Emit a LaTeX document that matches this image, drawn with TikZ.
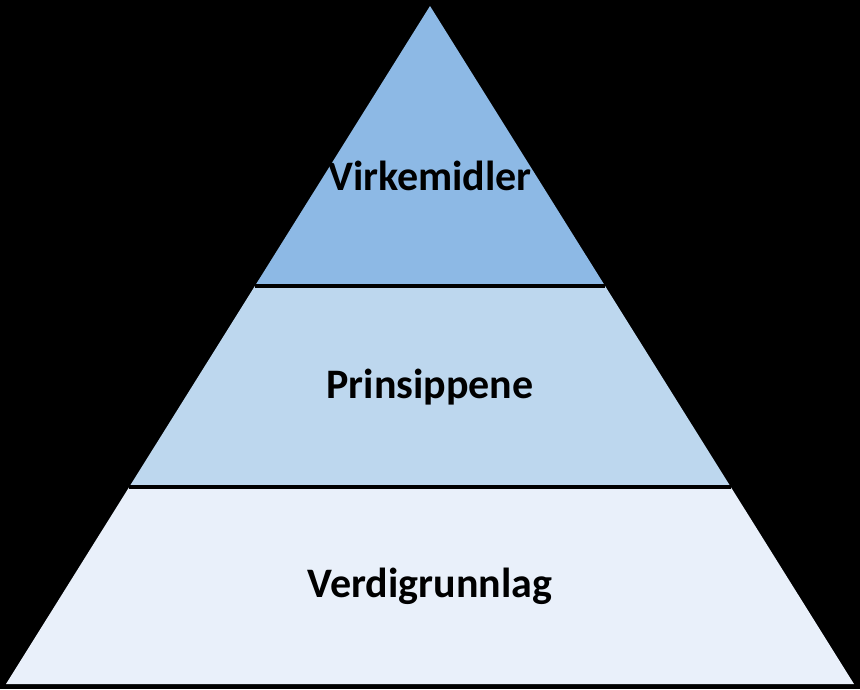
\documentclass[tikz,border=0pt]{standalone}
\usepackage{fontspec}
\setmainfont{Carlito}
\usetikzlibrary{calc}
\definecolor{topc}{RGB}{141,185,229}
\definecolor{midc}{RGB}{189,215,238}
\definecolor{botc}{RGB}{233,240,250}
\begin{document}
\begin{tikzpicture}[x=1pt,y=-1pt,
  lbl/.style={font=\fontsize{42}{50}\selectfont\bfseries, text=black, inner sep=0pt}]
\fill[black] (0,0) rectangle (860,689);
\useasboundingbox (0,0) rectangle (860,689);
\coordinate (A) at (430,6);
\coordinate (L) at (6,684);
\coordinate (R) at (854,684);
\coordinate (L1) at ($(A)!0.413!(L)$);
\coordinate (R1) at ($(A)!0.413!(R)$);
\coordinate (L2) at ($(A)!0.7094!(L)$);
\coordinate (R2) at ($(A)!0.7094!(R)$);
\fill[topc] (A) -- (L1) -- (R1) -- cycle;
\fill[midc] (L1) -- (L2) -- (R2) -- (R1) -- cycle;
\fill[botc] (L2) -- (L) -- (R) -- (R2) -- cycle;
\draw[black, line width=4pt] (L1) -- (R1);
\draw[black, line width=4pt] (L2) -- (R2);
\node[lbl] (t1) at (430,176) {Virkemidler};
\node[lbl] (t2) at (430,387) {Prinsippene};
\node[lbl] (t3) at (430,586) {Verdigrunnlag};
\end{tikzpicture}
\end{document}
